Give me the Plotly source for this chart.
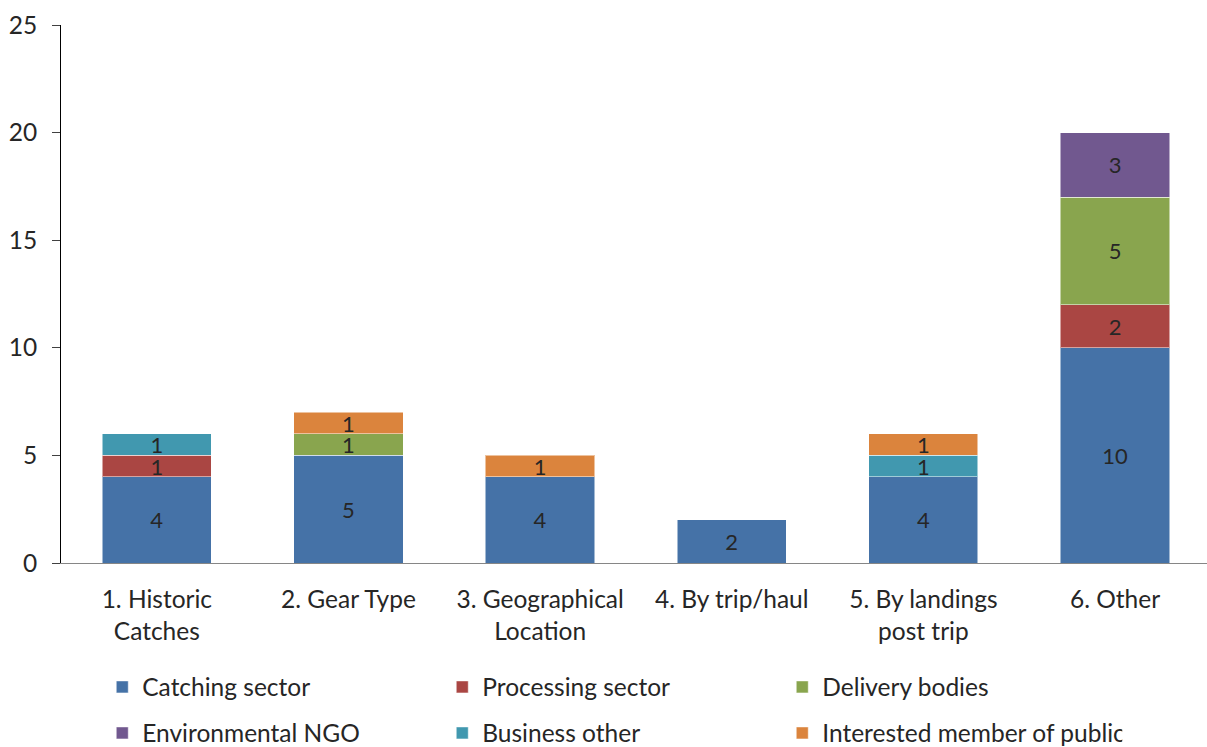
import plotly.graph_objects as go

categories = ["1. Historic<br>Catches", "2. Gear Type", "3. Geographical<br>Location",
              "4. By trip/haul", "5. By landings<br>post trip", "6. Other"]

catching = [4, 5, 4, 2, 4, 10]
processing = [1, 0, 0, 0, 0, 2]
delivery = [0, 1, 0, 0, 0, 5]
env_ngo = [0, 0, 0, 0, 0, 3]
business = [1, 0, 0, 0, 1, 0]
public = [0, 1, 1, 0, 1, 0]

series = [
    ("Catching sector", catching, "#4572A7", "legend"),
    ("Processing sector", processing, "#AA4643", "legend"),
    ("Delivery bodies", delivery, "#89A54E", "legend"),
    ("Environmental NGO", env_ngo, "#71588F", "legend2"),
    ("Business other", business, "#4198AF", "legend2"),
    ("Interested member of public", public, "#DB843D", "legend2"),
]

FONT = "Lato, 'Open Sans', sans-serif"
TXT = "#262626"
FS = 24.5

fig = go.Figure()
for name, vals, color, leg in series:
    fig.add_trace(go.Bar(
        x=categories,
        y=[v if v else None for v in vals],
        name=name,
        marker=dict(color=color, line=dict(color="rgba(255,255,255,0.5)", width=1)),
        text=[str(v) if v else "" for v in vals],
        textposition="inside",
        insidetextanchor="middle",
        textangle=0,
        constraintext="none",
        textfont=dict(family=FONT, size=22, color=TXT),
        legend=leg,
        hoverinfo="name+y",
    ))

legend_common = dict(
    orientation="h",
    xanchor="left",
    yanchor="middle",
    entrywidth=295,
    entrywidthmode="pixels",
    font=dict(family=FONT, size=FS, color=TXT),
    bgcolor="rgba(0,0,0,0)",
    traceorder="normal",
)

fig.update_layout(
    width=1207,
    height=747,
    barmode="stack",
    bargap=0.43,
    plot_bgcolor="white",
    paper_bgcolor="white",
    margin=dict(l=61, r=0, t=25, b=184, autoexpand=False),
    font=dict(family=FONT, size=FS, color=TXT),
    legend=dict(x=0.036, y=-0.2305, **legend_common),
    legend2=dict(x=0.036, y=-0.316, **legend_common),
    xaxis=dict(
        range=[-0.5, 5.48],
        showline=True,
        linecolor="#868686",
        linewidth=1,
        ticks="",
        showgrid=False,
        automargin=False,
        ticklabelstandoff=15,
        tickfont=dict(family=FONT, size=FS, color=TXT),
    ),
    yaxis=dict(
        range=[0, 25],
        dtick=5,
        showline=True,
        linecolor="#000000",
        linewidth=1,
        ticks="outside",
        ticklen=8,
        tickcolor="#404040",
        showgrid=False,
        zeroline=False,
        automargin=False,
        tickfont=dict(family=FONT, size=FS, color=TXT),
        ticklabelstandoff=10,
    ),
)

fig.write_html("out.html")
